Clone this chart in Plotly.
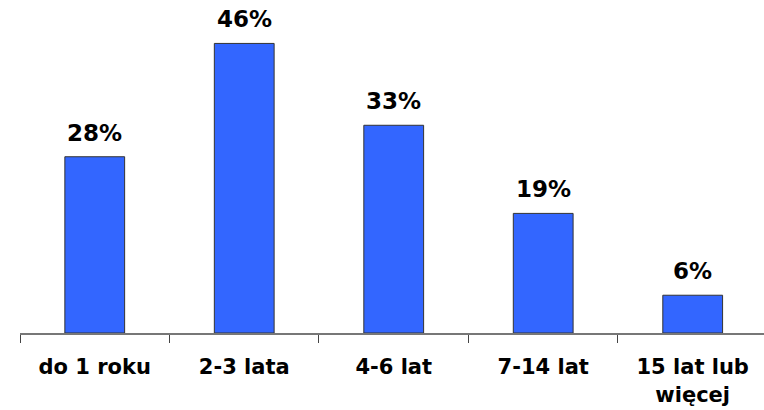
import plotly.graph_objects as go

categories = ["do 1 roku", "2-3 lata", "4-6 lat", "7-14 lat", "15 lat lub<br>więcej"]
values = [28, 46, 33, 19, 6]
labels = ["28%", "46%", "33%", "19%", "6%"]

FONT = "DejaVu Sans"

fig = go.Figure(go.Bar(
    x=categories, y=values,
    marker=dict(color="#3366FF", line=dict(color="#333333", width=1)),
    width=0.4,
    hoverinfo="skip",
))

for c, v, t in zip(categories, values, labels):
    fig.add_annotation(x=c, y=v, text="<b>%s</b>" % t, showarrow=False,
                       yanchor="bottom", yshift=9,
                       font=dict(family=FONT, size=23, color="black"))

fig.update_layout(
    width=764, height=410,
    margin=dict(l=20, r=0, t=0, b=77),
    plot_bgcolor="white", paper_bgcolor="white",
    showlegend=False,
    xaxis=dict(
        type="category", range=[-0.5, 4.477], automargin=False,
        showline=True, linecolor="#777777", linewidth=2,
        ticks="outside", tickson="boundaries", ticklen=8, tickcolor="#444444", tickwidth=1,
        showgrid=False, zeroline=False,
        tickfont=dict(family=FONT, size=21, color="black"),
        ticklabelstandoff=14,
    ),
    yaxis=dict(range=[0, 52.9], visible=False, showgrid=False, automargin=False),
)
fig.update_xaxes(ticktext=["<b>%s</b>" % c for c in categories], tickvals=categories)

fig.write_html("out.html", config={"displayModeBar": False},
               post_script="document.body.style.margin='0';document.body.style.overflow='hidden';")
